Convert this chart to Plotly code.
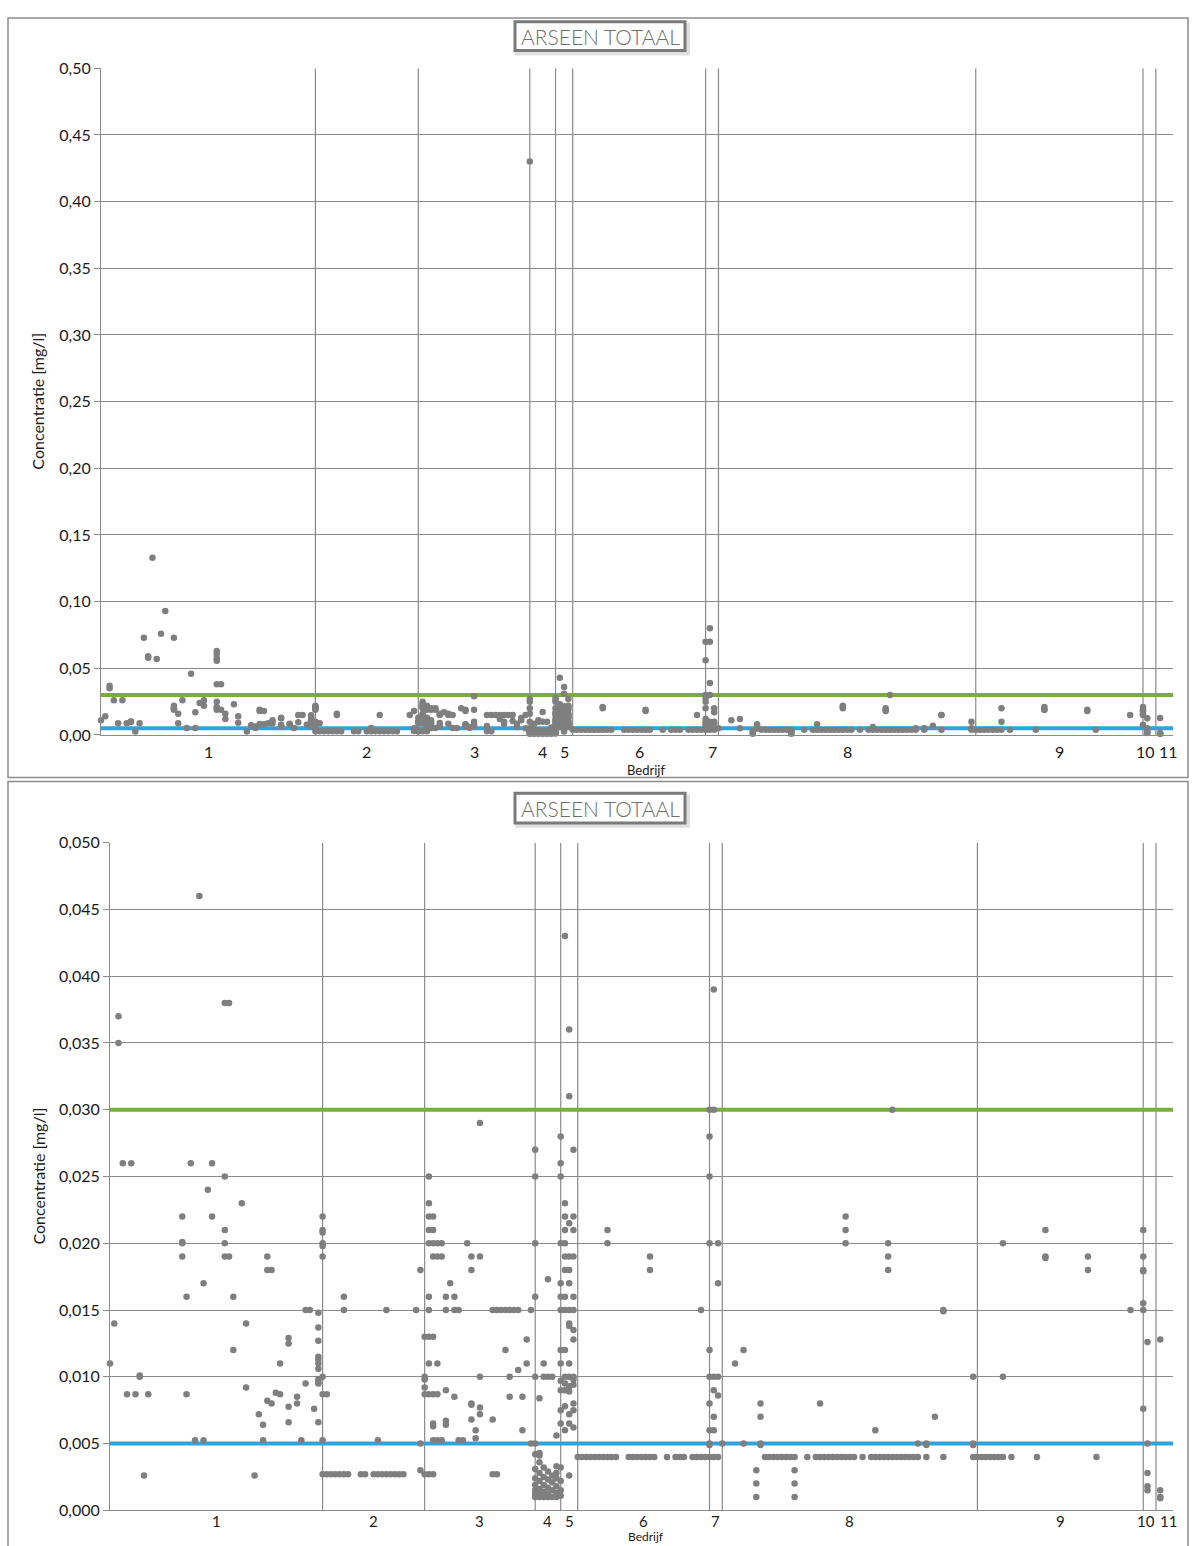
import plotly.graph_objects as go

# ---------------- data ----------------
bedrijf_labels = ["1", "2", "3", "4", "5", "6", "7", "8", "9", "10", "11"]
titel = "ARSEEN TOTAAL"
grens_groen = 0.030
grens_blauw = 0.005

# each company: list of monitoring wells, each well = list of measured concentrations [mg/l]
bedrijf_1 = [
    [0.011], [0.014], [0.037, 0.035], [0.026], [0.0087], [0.026], [0.0087], [0.010, 0.0101],
    [0.0026], [0.0087], [0.073], [0.059, 0.058], [0.133], [0.057], [0.076], [0.093], [],
    [0.073, 0.022, 0.020, 0.0201, 0.019], [0.0087, 0.016], [0.026], [0.00525], [0.046],
    [0.017, 0.00525], [0.024], [0.022, 0.026], [], [],
    [0.063, 0.061, 0.0575, 0.0557, 0.038, 0.025, 0.021, 0.020, 0.019], [0.038, 0.019],
    [0.012, 0.016], [], [0.023], [0.0092, 0.014], [], [0.0026], [0.0072], [0.0064, 0.00525],
    [0.019, 0.018, 0.0082], [0.018, 0.008], [0.0088], [0.011, 0.0087], [],
    [0.00775, 0.0066, 0.0129, 0.0125], [], [0.0085, 0.008], [0.00525], [0.015, 0.0095],
    [0.015], [0.0076],
    [0.0066, 0.0148, 0.0137, 0.0127, 0.0115, 0.0113, 0.011, 0.0106, 0.0098, 0.0096, 0.0095],
]
bedrijf_2 = [
    [0.022, 0.021, 0.0208, 0.020, 0.0198, 0.019, 0.010, 0.0087, 0.00525, 0.0027],
    [0.0087, 0.0027], [0.0027], [0.0027], [0.0027], [0.016, 0.015, 0.0027], [0.0027], [], [],
    [0.0027], [0.0027], [], [0.0027], [0.00525, 0.0027], [0.0027], [0.015, 0.0027], [0.0027],
    [0.0027], [0.0027], [0.0027], [], [], [0.015], [0.018, 0.005, 0.003],
]
bedrijf_3 = [
    [0.013, 0.010, 0.0098, 0.0092, 0.0087, 0.0027],
    [0.025, 0.023, 0.022, 0.021, 0.020, 0.016, 0.015, 0.013, 0.011, 0.0087, 0.0027],
    [0.022, 0.021, 0.020, 0.019, 0.013, 0.0087, 0.0065, 0.0063, 0.00525, 0.0027],
    [0.020, 0.019, 0.011, 0.0087, 0.00525], [0.020, 0.019, 0.00525],
    [0.016, 0.015, 0.009, 0.0067, 0.0064], [0.017], [0.016, 0.015, 0.0085], [0.015, 0.00525],
    [0.00525], [0.020], [0.019, 0.018, 0.008, 0.0079, 0.0068], [0.006, 0.0054],
    [0.029, 0.019, 0.010, 0.0077, 0.0072], [], [], [0.015, 0.0068, 0.0027], [0.015, 0.0027],
    [0.015], [0.015, 0.012], [0.015, 0.010, 0.0085], [0.015], [0.015, 0.0105], [0.0085, 0.006],
    [0.0128, 0.011], [0.015, 0.005],
]
bedrijf_4 = [
    [0.43, 0.027, 0.025, 0.020, 0.016, 0.010, 0.005, 0.0042, 0.0031, 0.0024, 0.0019, 0.0015, 0.0012, 0.001],
    [0.0043, 0.0041, 0.0084, 0.0036, 0.0028, 0.0022, 0.0016, 0.0013, 0.001],
    [0.011, 0.010, 0.0032, 0.0025, 0.0019, 0.0014, 0.001],
    [0.0173, 0.010, 0.0029, 0.0023, 0.0017, 0.0012, 0.001],
    [0.010, 0.0026, 0.0021, 0.0015, 0.001],
    [0.0056, 0.0033, 0.0028, 0.0024, 0.0018, 0.0013, 0.001],
]
bedrijf_5 = [
    [0.028, 0.026, 0.025, 0.020, 0.017, 0.016, 0.015, 0.012, 0.011, 0.0097, 0.009, 0.0075,
     0.0065, 0.0032, 0.0022, 0.0015, 0.0011],
    [0.043, 0.023, 0.022, 0.021, 0.020, 0.019, 0.018, 0.016, 0.015, 0.012, 0.010, 0.0095,
     0.009, 0.0078, 0.006],
    [0.036, 0.031, 0.0215, 0.019, 0.018, 0.017, 0.015, 0.014, 0.0138, 0.011, 0.010, 0.0093,
     0.0089, 0.0072, 0.0065, 0.0026],
    [0.027, 0.022, 0.021, 0.019, 0.016, 0.015, 0.0135, 0.0128, 0.010, 0.0098, 0.0094, 0.008,
     0.0075, 0.0062],
]
bedrijf_6 = [
    [0.004], [0.004], [0.004], [0.004], [0.004], [0.004], [0.004], [0.004, 0.021, 0.020],
    [0.004], [0.004], [], [], [0.004], [0.004], [0.004], [0.004], [0.004],
    [0.004, 0.019, 0.018], [0.004], [], [], [0.004], [], [0.004], [0.004], [0.004], [],
    [0.004], [0.004], [0.004, 0.015], [0.004],
]
bedrijf_7 = [
    [0.070, 0.056, 0.030, 0.028, 0.025, 0.020, 0.012, 0.010, 0.008, 0.006, 0.005, 0.0049, 0.004],
    [0.080, 0.070, 0.039, 0.030, 0.010, 0.009, 0.007, 0.006, 0.004],
    [0.020, 0.017, 0.010, 0.0086, 0.004],
]
bedrijf_8 = [
    [0.005], [], [], [0.011], [], [0.012, 0.005], [], [], [0.003, 0.002, 0.001],
    [0.005, 0.0049, 0.008, 0.007], [0.004], [0.004], [0.004], [0.004], [0.004], [0.004],
    [0.004], [0.004, 0.003, 0.002, 0.001], [], [], [0.004], [], [0.004], [0.004, 0.008],
    [0.004], [0.004], [0.004], [0.004], [0.004], [0.004, 0.022, 0.021, 0.020], [0.004],
    [0.004], [], [0.004], [], [0.004], [0.004, 0.006], [0.004], [0.004],
    [0.004, 0.020, 0.019, 0.018], [0.004, 0.030], [0.004], [0.004], [0.004], [0.004],
    [0.004], [0.004, 0.005], [], [0.004, 0.005, 0.0049], [], [0.007], [], [0.004, 0.015, 0.0149],
    [], [], [], [], [], [], [0.010, 0.005, 0.0049, 0.004],
]
bedrijf_9 = [
    [0.004], [0.004], [0.004], [0.004], [0.004], [0.004], [0.004, 0.020, 0.010], [], [0.004],
    [], [], [], [], [], [0.004], [], [0.021, 0.019, 0.0189], [], [], [], [], [], [], [], [], [],
    [0.019, 0.018], [], [0.004], [], [], [], [], [], [], [], [0.015], [], [],
]
bedrijf_10 = [
    [0.021, 0.019, 0.018, 0.0179, 0.0155, 0.015, 0.0076],
    [0.0126, 0.005, 0.0028, 0.0018, 0.0015],
    [],
]
bedrijf_11 = [
    [], [0.0128, 0.0015, 0.001, 0.0009], [], [],
]

bedrijven = [bedrijf_1, bedrijf_2, bedrijf_3, bedrijf_4, bedrijf_5, bedrijf_6,
             bedrijf_7, bedrijf_8, bedrijf_9, bedrijf_10, bedrijf_11]

# ---------------- build positions ----------------
xs, ys, starts = [], [], []
pos = 0
for wells in bedrijven:
    starts.append(pos)
    for well in wells:
        for v in well:
            xs.append(pos)
            ys.append(v)
        pos += 1
total = pos
ends = starts[1:] + [total]
centers = [(a + b) / 2 for a, b in zip(starts, ends)]

W, H = 1192, 1546
def fx(p):
    return p / W
def fy(p):
    return 1 - p / H

GRID = "#8a8a8a"
DOT = "#7f7f7f"
FONT = "Lato"
TXT = "#1a1a1a"
LABEL_SHIFT = {"10": -4, "11": 4}   # small nudge so the narrow last two labels don't touch

panels = [
    dict(xa="x", ya="y", xd=(101, 1173), yd=(59, 734), yr=(0, 0.5), dt=0.05, fmt=".2f",
         box=(8, 777), tbox=(12, 41), lab_shift=5, lab_size=16, bedrijf_y=769, bedrijf_size=13),
    dict(xa="x2", ya="y2", xd=(110, 1173), yd=(843, 1519), yr=(0, 0.05), dt=0.005, fmt=".3f",
         box=(781, 1560), tbox=(793, 823), lab_shift=0, lab_size=15, bedrijf_y=1545,
         bedrijf_size=12),
]

fig = go.Figure()
shapes, annotations = [], []
layout_axes = {}

for i, p in enumerate(panels):
    sx = "" if i == 0 else "2"
    # company separators (vertical lines)
    sep_x, sep_y = [], []
    for s in starts[1:]:
        sep_x += [s, s, None]
        sep_y += [p["yr"][0], p["yr"][1], None]
    fig.add_trace(go.Scatter(x=sep_x, y=sep_y, mode="lines", xaxis=p["xa"], yaxis=p["ya"],
                             line=dict(color=GRID, width=1.2), showlegend=False,
                             hoverinfo="skip"))
    # limit lines
    for val, col in ((grens_groen, "#79AE3F"), (grens_blauw, "#2EA3DD")):
        fig.add_trace(go.Scatter(x=[0, total], y=[val, val], mode="lines",
                                 xaxis=p["xa"], yaxis=p["ya"], line=dict(color=col, width=4),
                                 showlegend=False, hoverinfo="skip"))
    pts = [(x, y) for x, y in zip(xs, ys) if p["yr"][0] <= y <= p["yr"][1]]
    fig.add_trace(go.Scatter(
        x=[a for a, _ in pts], y=[b for _, b in pts], mode="markers",
        xaxis=p["xa"], yaxis=p["ya"], cliponaxis=False, showlegend=False,
        marker=dict(color=DOT, size=6.5, line=dict(width=0)),
        hoverinfo="skip",
    ))
    layout_axes["xaxis" + sx] = dict(
        domain=[fx(p["xd"][0]), fx(p["xd"][1])], range=[0, total], anchor=p["ya"],
        showgrid=False, zeroline=False, showline=True, linecolor=GRID, linewidth=1,
        showticklabels=False, ticks="", fixedrange=True,
    )
    layout_axes["yaxis" + sx] = dict(
        domain=[fy(p["yd"][1]), fy(p["yd"][0])], range=list(p["yr"]), anchor=p["xa"],
        tick0=0, dtick=p["dt"], tickformat=p["fmt"], showgrid=True, gridcolor=GRID,
        gridwidth=1, zeroline=False, showline=True, linecolor=GRID, linewidth=1,
        ticks="outside", ticklen=6, tickcolor=GRID,
        tickfont=dict(family=FONT, size=16, color=TXT), fixedrange=True,
    )
    # company labels under the x axis
    for lab, c in zip(bedrijf_labels, centers):
        annotations.append(dict(text=lab, xref=p["xa"], yref=p["ya"] + " domain", x=c, y=0,
                                yanchor="top", xanchor="center", yshift=-p["lab_shift"],
                                xshift=LABEL_SHIFT.get(lab, 0), showarrow=False,
                                font=dict(family=FONT, size=p["lab_size"], color=TXT)))
    # outer chart border
    shapes.append(dict(type="rect", xref="paper", yref="paper",
                       x0=fx(8), x1=fx(1188), y0=fy(p["box"][1]), y1=fy(p["box"][0]),
                       line=dict(color="#8c8c8c", width=1.5), layer="below"))
    # title box with shadow
    t0, t1 = p["tbox"]
    shapes.append(dict(type="rect", xref="paper", yref="paper",
                       x0=fx(517), x1=fx(688), y0=fy(t1 + 3), y1=fy(t0 + 3),
                       line=dict(color="rgba(0,0,0,0.12)", width=4), layer="above"))
    shapes.append(dict(type="rect", xref="paper", yref="paper",
                       x0=fx(515), x1=fx(685), y0=fy(t1), y1=fy(t0),
                       fillcolor="white", line=dict(color="#7a7a7a", width=3), layer="above"))
    annotations.append(dict(text=titel, xref="paper", yref="paper", x=fx(600),
                            y=fy((t0 + t1) / 2), showarrow=False, xanchor="center",
                            yanchor="middle",
                            font=dict(family=FONT, size=21, color="#6e6e6e", weight=300)))
    annotations.append(dict(text="Bedrijf", xref="paper", yref="paper", x=fx(646),
                            y=fy(p["bedrijf_y"]), showarrow=False, xanchor="center",
                            yanchor="middle",
                            font=dict(family=FONT, size=p["bedrijf_size"], color=TXT)))
    annotations.append(dict(text="Concentratie [mg/l]", xref="paper", yref="paper",
                            x=fx(38), y=fy((p["yd"][0] + p["yd"][1]) / 2), textangle=-90,
                            showarrow=False, xanchor="center", yanchor="middle",
                            font=dict(family=FONT, size=16, color=TXT)))

fig.update_layout(
    width=W, height=H, margin=dict(l=0, r=0, t=0, b=0),
    paper_bgcolor="white", plot_bgcolor="white", separators=",.",
    shapes=shapes, annotations=annotations, **layout_axes,
)

fig.write_html("out.html", config={"displayModeBar": False, "staticPlot": True},
               post_script="document.body.style.margin='0px';document.body.style.overflow='hidden';")
